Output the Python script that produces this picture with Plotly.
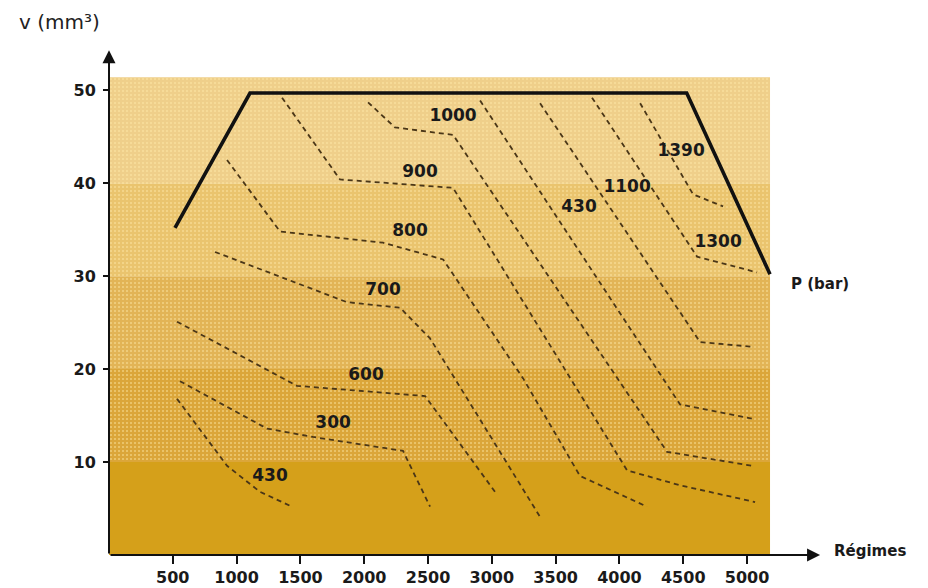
import plotly.graph_objects as go

# Engine speed (rpm) vs injected volume (mm3): iso-pressure lines inside the operating envelope

# Background bands of injected volume
band_low = [0, 10, 20, 30, 40]
band_high = [10, 20, 30, 40, 51.4]
band_colors = ["#D5A01A", "#DBA63A", "#E2B456", "#EAC46E", "#EFCF8A"]
band_x_end = 5180
stipple_low = 10          # stippled texture covers the bands above this volume
stipple_color = "rgba(255,236,170,0.55)"

# Operating envelope (full-load curve)
envelope_x = [517, 1105, 4527, 5180]
envelope_y = [35.2, 49.7, 49.7, 30.2]

# Iso-pressure lines (rpm, mm3)
line_430_x = [533, 925, 1183, 1418]
line_430_y = [16.8, 9.6, 6.8, 5.3]
line_300_x = [556, 1238, 1599, 2304, 2516]
line_300_y = [18.7, 13.6, 12.7, 11.2, 5.2]
line_600_x = [533, 1473, 2477, 3025]
line_600_y = [25.1, 18.2, 17.1, 6.8]
line_700_x = [831, 1865, 2281, 2516, 3378]
line_700_y = [32.6, 27.2, 26.6, 23.3, 4.1]
line_800_x = [925, 1340, 2147, 2618, 3245, 3691, 4216]
line_800_y = [42.5, 34.8, 33.6, 31.8, 19.0, 8.5, 5.2]
line_900_x = [1356, 1810, 2696, 4060, 4475, 5063]
line_900_y = [49.2, 40.4, 39.5, 9.1, 7.5, 5.7]
line_1000_x = [2030, 2241, 2696, 4373, 5039]
line_1000_y = [48.7, 46.0, 45.2, 11.1, 9.6]
line_430b_x = [2908, 4475, 5063]
line_430b_y = [48.9, 16.2, 14.6]
line_1100_x = [3378, 4632, 5047]
line_1100_y = [48.6, 22.9, 22.4]
line_1300_x = [3785, 4608, 5078]
line_1300_y = [49.2, 32.1, 30.4]
line_1390_x = [4162, 4577, 4812]
line_1390_y = [48.6, 38.8, 37.5]

iso_lines = [
    (line_430_x, line_430_y), (line_300_x, line_300_y), (line_600_x, line_600_y),
    (line_700_x, line_700_y), (line_800_x, line_800_y), (line_900_x, line_900_y),
    (line_1000_x, line_1000_y), (line_430b_x, line_430b_y), (line_1100_x, line_1100_y),
    (line_1300_x, line_1300_y), (line_1390_x, line_1390_y),
]

# Pressure labels (bar)
label_text = ["430", "300", "600", "700", "800", "900", "1000", "430", "1100", "1390", "1300"]
label_x = [1262, 1756, 2014, 2147, 2359, 2437, 2696, 3683, 4060, 4483, 4773]
label_y = [8.4, 14.1, 19.3, 28.4, 34.8, 41.1, 47.1, 37.4, 39.5, 43.4, 33.6]

# Axis ticks
x_ticks = [500, 1000, 1500, 2000, 2500, 3000, 3500, 4000, 4500, 5000]
y_ticks = [10, 20, 30, 40, 50]

X_MAX = 5650
Y_MAX = 59.6
x_arrow_tip = 5572
y_arrow_tip = 54.3

fig = go.Figure()

# Solid volume bands
shapes = [
    dict(type="rect", xref="x", yref="y", x0=0, x1=band_x_end, y0=lo, y1=hi,
         fillcolor=col, line=dict(width=0), layer="below")
    for lo, hi, col in zip(band_low, band_high, band_colors)
]

# Stippled texture over the upper bands
fig.add_trace(go.Bar(
    x=[band_x_end / 2],
    y=[band_high[-1] - stipple_low],
    base=[stipple_low],
    width=[band_x_end],
    marker=dict(
        color="rgba(0,0,0,0)",
        line=dict(width=0),
        pattern=dict(shape=".", fillmode="replace", bgcolor="rgba(0,0,0,0)",
                     fgcolor=stipple_color, size=4, solidity=0.2),
    ),
    hoverinfo="skip",
    showlegend=False,
))

for xs, ys in iso_lines:
    fig.add_trace(go.Scatter(
        x=xs, y=ys, mode="lines",
        line=dict(color="#4A3617", width=1.8, dash="5px,4px"),
        hoverinfo="skip", showlegend=False,
    ))

fig.add_trace(go.Scatter(
    x=envelope_x, y=envelope_y, mode="lines",
    line=dict(color="#111111", width=3.6),
    hoverinfo="skip", showlegend=False,
))

label_font = dict(family="DejaVu Sans", size=17, color="#1A1A1A", weight="bold")

fig.add_trace(go.Scatter(
    x=label_x, y=label_y, mode="text", text=label_text,
    textfont=label_font, textposition="middle center",
    hoverinfo="skip", showlegend=False,
))

annotations = [
    # axis arrows
    dict(x=0, y=y_arrow_tip, ax=0, ay=0, xref="x", yref="y", axref="x", ayref="y",
         showarrow=True, arrowhead=2, arrowsize=1.3, arrowwidth=2, arrowcolor="#111111", text=""),
    dict(x=x_arrow_tip, y=0, ax=0, ay=0, xref="x", yref="y", axref="x", ayref="y",
         showarrow=True, arrowhead=2, arrowsize=1.3, arrowwidth=2, arrowcolor="#111111", text=""),
    # axis titles
    dict(x=-0.068, y=0.962, xref="paper", yref="paper", text="v (mm³)", showarrow=False,
         font=dict(family="DejaVu Sans", size=20, color="#222222"), xanchor="center", yanchor="middle"),
    dict(x=1.003, y=0.008, xref="paper", yref="paper", text="Régimes", showarrow=False,
         font=dict(family="DejaVu Sans", size=15, color="#1A1A1A", weight="bold"),
         xanchor="left", yanchor="middle"),
    dict(x=5330, y=29.2, xref="x", yref="y", text="P (bar)", showarrow=False,
         font=dict(family="DejaVu Sans", size=15, color="#1A1A1A", weight="bold"),
         xanchor="left", yanchor="middle"),
]

tick_font = dict(family="DejaVu Sans", size=16, color="#1A1A1A", weight="bold")

fig.update_layout(
    width=928, height=588,
    margin=dict(l=109, r=98, t=1, b=31),
    paper_bgcolor="white", plot_bgcolor="white",
    shapes=shapes,
    annotations=annotations,
    bargap=0,
    xaxis=dict(range=[0, X_MAX], tickvals=x_ticks, ticks="outside", ticklen=8,
               tickwidth=1.5, tickcolor="#111111", showgrid=False, zeroline=False,
               showline=False, tickfont=tick_font, fixedrange=True),
    yaxis=dict(range=[0, Y_MAX], tickvals=y_ticks, ticks="outside", ticklen=5,
               tickwidth=1.5, tickcolor="#111111", showgrid=False, zeroline=False,
               showline=False, tickfont=tick_font, ticklabelstandoff=4, fixedrange=True),
)

fig.write_html("out.html")
